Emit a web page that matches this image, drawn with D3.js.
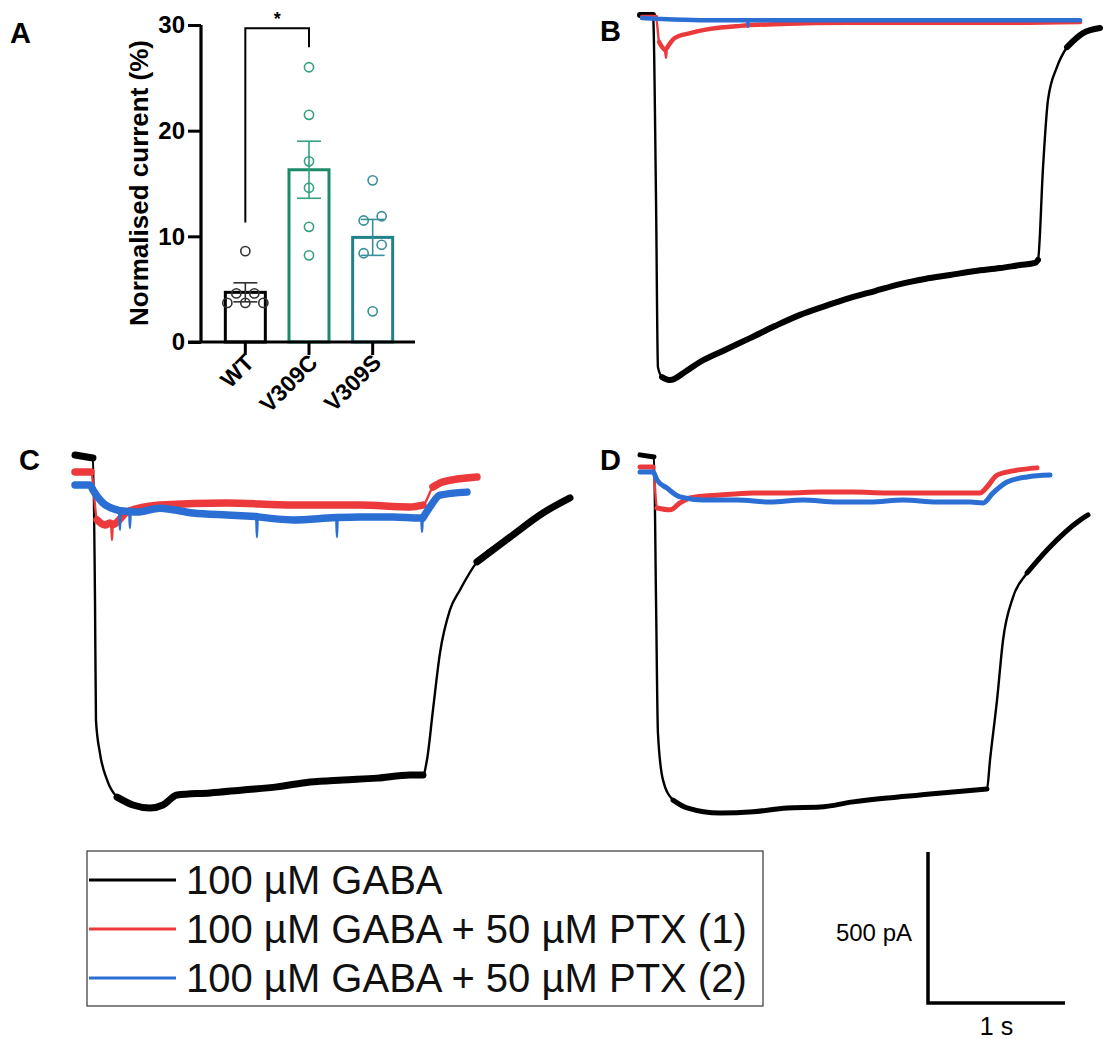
<!DOCTYPE html>
<html>
<head>
<meta charset="utf-8">
<script src="https://cdn.jsdelivr.net/npm/d3@7"></script>
<style>
  body { margin: 0; background: #fff; }
  svg { display: block; }
  text { font-family: "Liberation Sans", Arial, sans-serif; }
</style>
</head>
<body>
<svg id="fig" width="1103" height="1039"></svg>
<script>
// ---- Panel A: normalised current (%) ----
const groups = ["WT", "V309C", "V309S"];
const groupMeans = [4.7, 16.3, 9.9];
const groupSems = [0.9, 2.7, 1.7];
const wtPoints = [8.6, 4.6, 4.6, 3.7, 3.7, 3.7];
const v309cPoints = [26.0, 21.5, 17.1, 14.6, 10.9, 8.2];
const v309sPoints = [15.3, 11.9, 11.5, 9.2, 8.4, 2.9];
const yTicksA = [0, 10, 20, 30];
const bracketLevels = [11.3, 29.7, 27.9]; // WT end, top, V309C end

// ---- Panels B-D: current traces, [time (s), current (pA)] ----
const traceB_gaba = [[0,0],[0.095,0],[0.117,-613],[0.131,-1166],[0.161,-1199],[0.219,-1209],[0.328,-1182],[0.438,-1149],[0.620,-1109],[0.803,-1070],[0.985,-1030],[1.168,-993],[1.350,-964],[1.533,-937],[1.715,-914],[1.898,-891],[2.080,-874],[2.263,-861],[2.445,-848],[2.628,-838],[2.774,-828],[2.883,-821],[2.905,-811],[2.942,-503],[2.978,-281],[3.044,-172],[3.117,-106],[3.234,-60],[3.358,-43]];
const traceB_ptx1 = [[0.015,-7],[0.117,-7],[0.139,-89],[0.161,-106],[0.182,-116],[0.190,-142],[0.197,-109],[0.255,-76],[0.365,-60],[0.511,-46],[0.730,-36],[1.022,-30],[1.533,-26],[2.628,-26],[3.212,-23]];
const traceB_ptx2 = [[0.015,-10],[0.146,-13],[0.438,-17],[0.782,-17],[0.788,-40],[0.794,-17],[3.212,-17]];

const traceC_gaba = [[0,10],[0.131,0],[0.146,-470],[0.153,-868],[0.182,-977],[0.234,-1066],[0.307,-1123],[0.423,-1149],[0.547,-1159],[0.642,-1149],[0.745,-1116],[0.985,-1109],[1.226,-1099],[1.474,-1089],[1.715,-1073],[1.956,-1066],[2.204,-1060],[2.445,-1050],[2.540,-1050],[2.569,-1000],[2.613,-834],[2.664,-646],[2.737,-503],[2.810,-437],[2.934,-344],[3.175,-262],[3.416,-182],[3.613,-132]];
const traceC_ptx1 = [[0,-46],[0.117,-46],[0.161,-205],[0.219,-222],[0.255,-215],[0.264,-218],[0.270,-272],[0.276,-220],[0.285,-219],[0.380,-179],[0.620,-156],[1.109,-149],[1.591,-156],[2.080,-156],[2.445,-162],[2.540,-156],[2.613,-96],[2.686,-79],[2.934,-63]];
const traceC_ptx2 = [[0,-89],[0.109,-89],[0.131,-106],[0.204,-149],[0.307,-172],[0.322,-174],[0.328,-238],[0.334,-175],[0.395,-177],[0.401,-232],[0.407,-178],[0.453,-179],[0.620,-166],[0.861,-182],[1.109,-189],[1.322,-194],[1.328,-262],[1.334,-195],[1.591,-205],[1.839,-199],[1.906,-197],[1.912,-262],[1.918,-197],[2.080,-195],[2.321,-195],[2.518,-199],[2.527,-199],[2.533,-245],[2.539,-199],[2.591,-162],[2.664,-123],[2.861,-113]];

const traceD_gaba = [[0,7],[0.102,0],[0.117,-474],[0.131,-914],[0.168,-1070],[0.241,-1136],[0.343,-1162],[0.584,-1179],[0.825,-1175],[1.073,-1162],[1.314,-1159],[1.555,-1142],[1.803,-1129],[2.044,-1119],[2.285,-1109],[2.533,-1099],[2.555,-1003],[2.606,-805],[2.650,-606],[2.723,-464],[2.825,-384],[2.971,-308],[3.212,-209],[3.270,-192]];
const traceD_ptx1 = [[0,-33],[0.095,-33],[0.124,-169],[0.219,-175],[0.292,-152],[0.365,-136],[0.584,-126],[0.825,-119],[1.073,-119],[1.314,-116],[1.555,-116],[1.803,-119],[2.044,-119],[2.285,-119],[2.482,-119],[2.533,-99],[2.606,-60],[2.723,-46],[2.898,-36]];
const traceD_ptx2 = [[0,-50],[0.095,-50],[0.124,-76],[0.197,-103],[0.292,-132],[0.460,-142],[0.708,-142],[0.949,-149],[1.190,-142],[1.438,-149],[1.679,-149],[1.920,-142],[2.168,-149],[2.409,-149],[2.504,-152],[2.577,-119],[2.679,-83],[2.825,-66],[2.993,-60]];

const legendLabels = ["100 µM GABA", "100 µM GABA + 50 µM PTX (1)", "100 µM GABA + 50 µM PTX (2)"];
const scaleBarValues = [1, 500]; // 1 s, 500 pA

const svg = d3.select("#fig");
svg.append("rect").attr("width", 1103).attr("height", 1039).attr("fill", "#fff");

// ================= Panel A =================
const barColors = ["#000000", "#1b8a6b", "#23818a"];
const dotColors = ["#333333", "#35a084", "#3a9099"];

const yA = d3.scaleLinear().domain([0, 30]).range([342, 25]);
const xA = d3.scaleBand().domain(groups).range([213.5, 404.5]);
const barW = 40;

const gA = svg.append("g");

// bars
gA.selectAll(".bar")
  .data(groups)
  .enter()
  .append("rect")
  .attr("x", d => xA(d) + xA.bandwidth() / 2 - barW / 2)
  .attr("y", (d, i) => yA(groupMeans[i]))
  .attr("width", barW)
  .attr("height", (d, i) => yA(0) - yA(groupMeans[i]))
  .attr("fill", "none")
  .attr("stroke", (d, i) => barColors[i])
  .attr("stroke-width", 3);

// simple row-based swarm so close values sit side by side
function swarm(vals, step, gap) {
  const sorted = vals.slice().sort((a, b) => a - b);
  const rows = [];
  sorted.forEach(v => {
    const last = rows[rows.length - 1];
    if (last && Math.abs(yA(v) - yA(last[0])) < gap) last.push(v);
    else rows.push([v]);
  });
  const out = [];
  rows.forEach(r => r.forEach((v, k) => out.push({ v, dx: (k - (r.length - 1) / 2) * step })));
  return out;
}

[wtPoints, v309cPoints, v309sPoints].forEach((pts, i) => {
  const cx = xA(groups[i]) + xA.bandwidth() / 2;
  gA.selectAll(".dot" + i)
    .data(swarm(pts, 18, 9))
    .enter()
    .append("circle")
    .attr("cx", d => cx + d.dx)
    .attr("cy", d => yA(d.v))
    .attr("r", 4.6)
    .attr("fill", "none")
    .attr("stroke", dotColors[i])
    .attr("stroke-width", 1.6);

  // error bar (mean ± SEM)
  const eb = gA.append("g").attr("stroke", dotColors[i]).attr("stroke-width", 1.6);
  eb.append("line").attr("x1", cx).attr("x2", cx)
    .attr("y1", yA(groupMeans[i] - groupSems[i])).attr("y2", yA(groupMeans[i] + groupSems[i]));
  [groupMeans[i] - groupSems[i], groupMeans[i] + groupSems[i]].forEach(v => {
    eb.append("line").attr("x1", cx - 12).attr("x2", cx + 12).attr("y1", yA(v)).attr("y2", yA(v));
  });
});

// y axis
const yAxisA = gA.append("g")
  .attr("transform", "translate(201,0)")
  .call(d3.axisLeft(yA).tickValues(yTicksA).tickSize(13).tickPadding(3));
yAxisA.select(".domain").attr("stroke-width", 3.2).attr("d", `M0,${yA(30)}V${yA(0)}`);
yAxisA.selectAll(".tick line").attr("stroke-width", 3);
yAxisA.selectAll(".tick text").attr("font-size", 24).attr("font-weight", "bold").attr("fill", "#000")
  .attr("font-family", "'Liberation Sans', Arial, sans-serif");

// x axis
gA.append("line")
  .attr("x1", 188).attr("x2", 415).attr("y1", yA(0)).attr("y2", yA(0))
  .attr("stroke", "#000").attr("stroke-width", 3.2);
groups.forEach(g => {
  const cx = xA(g) + xA.bandwidth() / 2;
  gA.append("line").attr("x1", cx).attr("x2", cx).attr("y1", yA(0)).attr("y2", yA(0) + 13)
    .attr("stroke", "#000").attr("stroke-width", 3);
  gA.append("text")
    .attr("transform", `translate(${cx + 10},${yA(0) + 22}) rotate(-45)`)
    .attr("text-anchor", "end")
    .attr("font-size", 23)
    .attr("font-weight", "bold")
    .text(g);
});

// y label
gA.append("text")
  .attr("transform", `translate(148,183) rotate(-90)`)
  .attr("text-anchor", "middle")
  .attr("font-size", 26)
  .attr("font-weight", "bold")
  .text("Normalised current (%)");

// significance bracket
const bx1 = xA("WT") + xA.bandwidth() / 2, bx2 = xA("V309C") + xA.bandwidth() / 2;
gA.append("path")
  .attr("d", `M${bx1},${yA(bracketLevels[0])}V${yA(bracketLevels[1])}H${bx2}V${yA(bracketLevels[2])}`)
  .attr("fill", "none").attr("stroke", "#000").attr("stroke-width", 2);
gA.append("text")
  .attr("x", (bx1 + bx2) / 2).attr("y", 25)
  .attr("text-anchor", "middle").attr("font-size", 18).attr("font-weight", "bold")
  .text("*");

// ================= Panels B-D =================
const secPx = 137, pA500Px = 151;
const traceColors = ["#000000", "#ec3a3c", "#2b6fd4"];

const panels = [
  { x0: 640, y0: 15, traces: [traceB_gaba, traceB_ptx1, traceB_ptx2], thick: [6, 4.5, 4.5] },
  { x0: 75, y0: 458, traces: [traceC_gaba, traceC_ptx1, traceC_ptx2], thick: [7, 7.5, 7.5] },
  { x0: 640, y0: 457, traces: [traceD_gaba, traceD_ptx1, traceD_ptx2], thick: [5, 5, 5] }
];

function drawTrace(g, data, xs, ys, color, thick) {
  const line = d3.line().x(d => xs(d[0])).y(d => ys(d[1])).curve(d3.curveMonotoneX);
  g.append("path").datum(data).attr("d", line)
    .attr("fill", "none").attr("stroke", color).attr("stroke-width", 2.4)
    .attr("stroke-linejoin", "round");
  // noisy (shallow) stretches drawn thicker
  const runs = [];
  let run = [];
  for (let i = 1; i < data.length; i++) {
    const dx = Math.abs(xs(data[i][0]) - xs(data[i - 1][0]));
    const dy = Math.abs(ys(data[i][1]) - ys(data[i - 1][1]));
    if (dy <= 1.5 * dx + 2) {
      if (!run.length) run.push(data[i - 1]);
      run.push(data[i]);
    } else {
      if (run.length) runs.push(run);
      run = [];
    }
  }
  if (run.length) runs.push(run);
  runs.forEach(r => {
    g.append("path").datum(r).attr("d", line)
      .attr("fill", "none").attr("stroke", color).attr("stroke-width", thick)
      .attr("stroke-linejoin", "round").attr("stroke-linecap", "round");
  });
}

panels.forEach(p => {
  const xs = d3.scaleLinear().domain([0, 1]).range([p.x0, p.x0 + secPx]);
  const ys = d3.scaleLinear().domain([0, -500]).range([p.y0, p.y0 + pA500Px]);
  const g = svg.append("g");
  p.traces.forEach((tr, i) => drawTrace(g, tr, xs, ys, traceColors[i], p.thick[i]));
});

// panel letters
const letters = [["A", 10, 43], ["B", 600, 41], ["C", 19, 470], ["D", 600, 470]];
svg.selectAll(".letter")
  .data(letters)
  .enter()
  .append("text")
  .attr("x", d => d[1]).attr("y", d => d[2])
  .attr("font-size", 29).attr("font-weight", "bold")
  .text(d => d[0]);

// ================= Legend =================
const lg = svg.append("g");
lg.append("rect")
  .attr("x", 87).attr("y", 851).attr("width", 676).attr("height", 155)
  .attr("fill", "#fff").attr("stroke", "#444").attr("stroke-width", 1.3);
legendLabels.forEach((lab, i) => {
  const ly = 880 + i * 49;
  lg.append("line").attr("x1", 89).attr("x2", 176).attr("y1", ly).attr("y2", ly)
    .attr("stroke", traceColors[i]).attr("stroke-width", 3);
  lg.append("text").attr("x", 186).attr("y", ly + 14)
    .attr("font-size", 40).attr("fill", "#111").text(lab);
});

// ================= Scale bar =================
const sbX = d3.scaleLinear().domain([0, 1]).range([928, 928 + secPx]);
const sbY = d3.scaleLinear().domain([0, 500]).range([1003, 1003 - pA500Px]);
svg.append("path")
  .attr("d", `M${sbX(0)},${sbY(scaleBarValues[1])}V${sbY(0)}H${sbX(scaleBarValues[0])}`)
  .attr("fill", "none").attr("stroke", "#000").attr("stroke-width", 3.5);
svg.append("text")
  .attr("x", 912).attr("y", 941).attr("text-anchor", "end")
  .attr("font-family", "Lato, 'Open Sans', sans-serif").attr("font-size", 24)
  .text(scaleBarValues[1] + " pA");
svg.append("text")
  .attr("x", (sbX(0) + sbX(1)) / 2).attr("y", 1035).attr("text-anchor", "middle")
  .attr("font-family", "Lato, 'Open Sans', sans-serif").attr("font-size", 25)
  .text(scaleBarValues[0] + " s");
</script>
</body>
</html>
